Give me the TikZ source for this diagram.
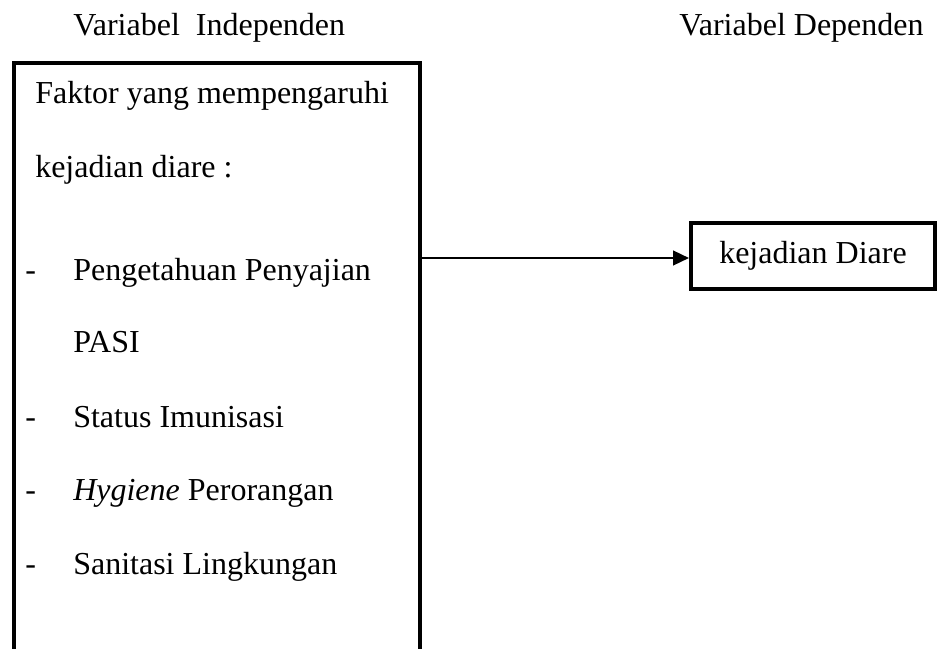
\documentclass[tikz,border=0pt]{standalone}
\usepackage{fontspec}
\setmainfont{Liberation Serif}
\usetikzlibrary{arrows.meta}
\tikzset{
  lbl/.style={anchor=base west, inner sep=0pt, font=\fontsize{24pt}{28pt}\selectfont},
  frame/.style={line width=3.5pt, line cap=rect, line join=miter},
  outbox/.style={draw, line width=3pt, minimum width=183pt, minimum height=49.5pt,
    inner sep=0pt, font=\fontsize{24pt}{28pt}\selectfont},
  conn/.style={line width=1.8pt, -{Triangle[length=12pt,width=11pt]}}
}
\begin{document}
\begin{tikzpicture}[x=0.75pt,y=-0.75pt]
\useasboundingbox (0,0) rectangle (938,649);
\clip (0,0) rectangle (938,649);
% headings
\node[lbl] (hind) at (73,36) {Variabel\ \ Independen};
\node[lbl] (hdep) at (679,36) {Variabel Dependen};
% left box (open at the bottom)
\draw[frame] (14,655) -- (14,63) -- (420,63) -- (420,655);
\coordinate (lb) at (421,258);
% left box text
\node[lbl] (t1) at (35,104) {Faktor yang mempengaruhi};
\node[lbl] (t2) at (35,177) {kejadian diare :};
\node[lbl] (d1) at (25,280) {-};
\node[lbl] (i1) at (73,280) {Pengetahuan Penyajian};
\node[lbl] (i1b) at (73,352) {PASI};
\node[lbl] (d2) at (25,427) {-};
\node[lbl] (i2) at (73,427) {Status Imunisasi};
\node[lbl] (d3) at (25,500) {-};
\node[lbl] (i3) at (73,500) {\textit{Hygiene} Perorangan};
\node[lbl] (d4) at (25,574) {-};
\node[lbl] (i4) at (73,574) {Sanitasi Lingkungan};
% right box
\node[outbox] (diare) at (813,256) {kejadian Diare};
% connector
\draw[conn] (lb) -- (lb -| diare.west);
\end{tikzpicture}
\end{document}
